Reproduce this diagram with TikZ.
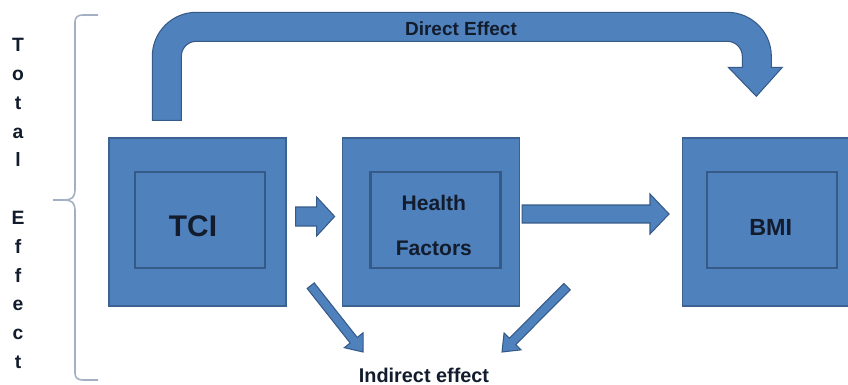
\documentclass[tikz,border=0pt]{standalone}
\usepackage{fontspec}
\setmainfont{Liberation Sans}
\usetikzlibrary{positioning,calc}
\definecolor{bxFill}{HTML}{4F81BD}
\definecolor{bxLine}{HTML}{3B6291}
\definecolor{bxEdge}{HTML}{365A88}
\definecolor{txDark}{HTML}{121C2C}
\definecolor{brLine}{HTML}{A3AFC2}
\tikzset{
  outbox/.style={
    draw=bxLine, fill=bxFill, line width=0.8pt, inner sep=0pt,
    minimum width=3.54cm, minimum height=3.36cm
  },
  inbox/.style={
    draw=bxEdge, fill=bxFill, line width=1.4pt, inner sep=0pt,
    minimum width=2.6cm, minimum height=1.92cm
  },
  boxtext/.style={text=txDark, align=center, inner sep=0pt},
  sidetext/.style={text=txDark, align=center, inner sep=0pt},
  blockarr/.style={draw=bxEdge, fill=bxFill, line width=0.6pt, line join=miter},
  bracket/.style={draw=brLine, line width=0.9pt}
}
% block arrow: from, to, half shaft, half head, head length
\newcommand\blockarrow[5]{%
  \coordinate (ba-base) at ($(#2)!#5!(#1)$);
  \draw[blockarr] ($(#1)!#3!90:(#2)$) -- ($(ba-base)!#3!-90:(#1)$)
    -- ($(ba-base)!#4!-90:(#1)$) -- (#2) -- ($(ba-base)!#4!90:(#1)$)
    -- ($(ba-base)!#3!90:(#1)$) -- ($(#1)!#3!-90:(#2)$) -- cycle;
}

\begin{document}
\begin{tikzpicture}[x=0.02cm, y=-0.02cm]
  \useasboundingbox (0,0) rectangle (848,385);
  \clip (0,0) rectangle (848,385);

  % the three blocks
  \node[outbox] (tci) at (197.5,222) {};
  \node[outbox, right=1.1cm of tci] (hf) {};
  \node[outbox, right=3.24cm of hf] (bmi) {};
  \node[inbox] (tciIn) at ($(tci)+(2.5,-2)$) {};
  \node[inbox] (hfIn) at ($(hf)+(4.5,-2)$) {};
  \node[inbox] (bmiIn) at ($(bmi)+(1,-2)$) {};
  \node[boxtext, font=\bfseries\fontsize{17}{20}\selectfont] (tciTxt) at ($(tciIn)+(-7,6)$) {TCI};
  \node[boxtext, font=\bfseries\fontsize{12}{25.5}\selectfont] (hfTxt) at ($(hfIn)+(-1.5,5.5)$) {Health\\Factors};
  \node[boxtext, font=\bfseries\fontsize{13.3}{16}\selectfont] (bmiTxt) at ($(bmiIn)+(-1.5,7)$) {BMI};

  % direct effect
  \draw[blockarr] ($(tci.north west)+(44,-17)$) -- ++(0,-64) arc(180:270:44)
    -- ++(531,0) arc(270:360:44) -- ++(0,11) -- ++(11,0) -- ++(-26,29)
    -- ++(-28,-29) -- ++(14,0) -- ++(0,-11) arc(0:-90:15)
    -- ++(-531,0) arc(270:180:15) -- ++(0,64) -- cycle;
  \node[sidetext, font=\bfseries\fontsize{10.8}{13}\selectfont] (direct) at (461,29) {Direct Effect};

  % indirect effect
  \node[sidetext, font=\bfseries\fontsize{11.3}{13}\selectfont] (ind) at (424,375) {Indirect effect};
  \coordinate (h1s) at ($(tci.east)+(9,-5.5)$);
  \coordinate (h1e) at ($(hf.west)+(-7,-5.5)$);
  \coordinate (h2s) at ($(hf.east)+(2,-8)$);
  \coordinate (h2e) at ($(bmi.west)+(-13,-8)$);
  \coordinate (d1s) at ($(tci.south east)+(24,-21)$);
  \coordinate (d1e) at ($(ind.center)+(-61,-23)$);
  \coordinate (d2s) at ($(hf.south east)+(47,-20)$);
  \coordinate (d2e) at ($(ind.center)+(78,-23)$);
  \blockarrow{h1s}{h1e}{1.9mm}{3.9mm}{3.6mm}
  \blockarrow{h2s}{h2e}{1.8mm}{4mm}{3.8mm}
  \blockarrow{d1s}{d1e}{0.9mm}{2.4mm}{3mm}
  \blockarrow{d2s}{d2e}{0.9mm}{2.4mm}{3mm}

  % total effect
  \draw[bracket] (98,15) -- (83,15) .. controls (78,15) and (75,17) .. (75,22)
    -- (75,190) .. controls (75,197) and (72,200) .. (64,200) -- (53,200);
  \draw[bracket] (64,200) .. controls (72,200) and (75,203) .. (75,210)
    -- (75,373) .. controls (75,378) and (78,380) .. (83,380) -- (98,380);
  \node[sidetext, anchor=north, font=\bfseries\fontsize{11}{16.4}\selectfont] (total) at (18,38)
    {T\\o\\t\\a\\l\\[16.4pt]E\\f\\f\\e\\c\\t};
\end{tikzpicture}
\end{document}
